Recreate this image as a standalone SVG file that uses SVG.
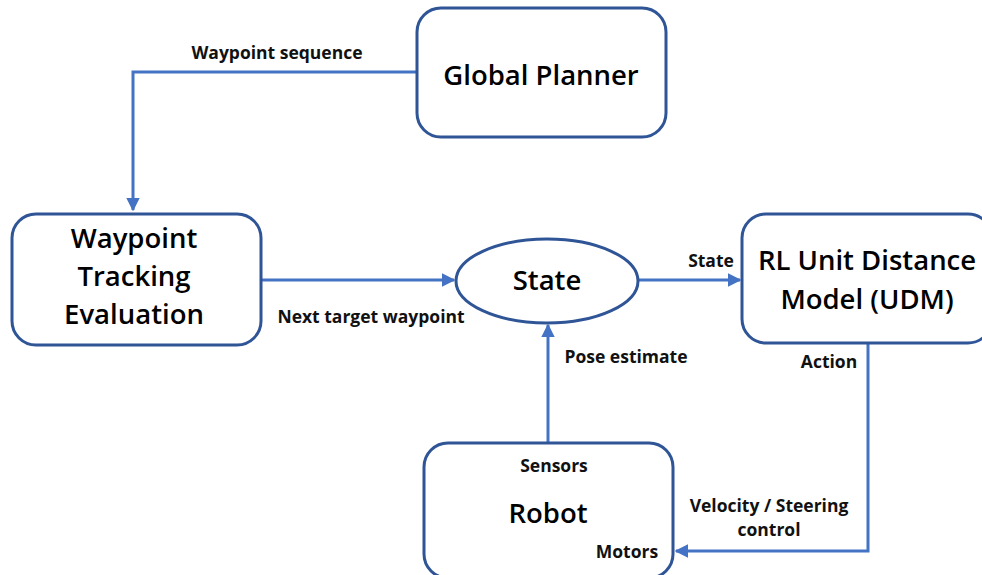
<svg xmlns="http://www.w3.org/2000/svg" width="982" height="575" viewBox="0 0 982 575">
<defs>
<style>
.box{fill:#fff;stroke:#2F5597;stroke-width:3}
.ln{fill:none;stroke:#4472C4;stroke-width:3}
.nt{font-family:"Open Sans","Liberation Sans",sans-serif;font-weight:600;font-size:27.5px;fill:#000;text-anchor:middle}
.lb{font-family:"Open Sans","Liberation Sans",sans-serif;font-weight:700;font-size:17.5px;fill:#111;text-anchor:middle}
</style>
<marker id="ah" viewBox="0 0 10 10" refX="9" refY="5" markerWidth="4.5" markerHeight="4.5" orient="auto" markerUnits="strokeWidth">
<path d="M0,0 L10,5 L0,10 z" fill="#4472C4"/>
</marker>
</defs>
<rect width="982" height="575" fill="#fff"/>
<g id="connectors">
<path class="ln" d="M417,72 H133 V210" marker-end="url(#ah)"/>
<path class="ln" d="M261,280 H454" marker-end="url(#ah)"/>
<path class="ln" d="M638,280 H740" marker-end="url(#ah)"/>
<path class="ln" d="M548,443 V325" marker-end="url(#ah)"/>
<path class="ln" d="M868,343 V551 H676" marker-end="url(#ah)"/>
<text class="lb" x="277" y="59">Waypoint sequence</text>
<text class="lb" x="371" y="323">Next target waypoint</text>
<text class="lb" x="711" y="267">State</text>
<text class="lb" x="626" y="363">Pose estimate</text>
<text class="lb" x="829" y="368">Action</text>
<text class="lb" x="769" y="512">Velocity / Steering</text>
<text class="lb" x="769" y="536">control</text>
</g>
<g id="global-planner">
<rect class="box" x="417" y="8" width="249" height="129" rx="24"/>
<text class="nt" x="541" y="85">Global Planner</text>
</g>
<g id="waypoint-tracking">
<rect class="box" x="12" y="214" width="249" height="131" rx="24"/>
<text class="nt" x="134" y="248">Waypoint</text>
<text class="nt" x="134" y="286">Tracking</text>
<text class="nt" x="134" y="324">Evaluation</text>
</g>
<g id="state">
<ellipse class="box" cx="547" cy="281" rx="91" ry="42"/>
<text class="nt" x="547" y="290">State</text>
</g>
<g id="rl-udm">
<rect class="box" x="742" y="214" width="250" height="129" rx="24"/>
<text class="nt" x="867" y="270">RL Unit Distance</text>
<text class="nt" x="867" y="309">Model (UDM)</text>
</g>
<g id="robot">
<rect class="box" x="424" y="443" width="249" height="135" rx="24"/>
<text class="lb" x="554" y="472">Sensors</text>
<text class="nt" x="548" y="523">Robot</text>
<text class="lb" x="627" y="558">Motors</text>
</g>
</svg>
